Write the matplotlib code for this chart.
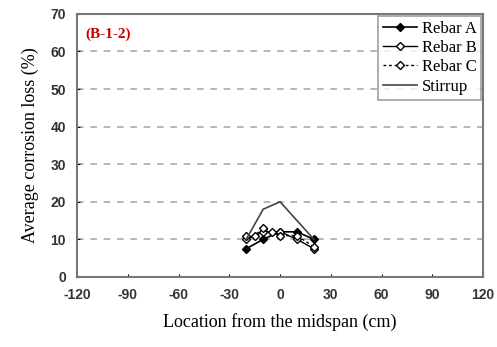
import matplotlib
matplotlib.use("Agg")
import matplotlib.pyplot as plt

plt.rcParams['font.family'] = ['Liberation Serif', 'DejaVu Serif']
plt.rcParams['axes.unicode_minus'] = False

# data
loc_a = [-20, -10, 0, 10, 20]
rebar_a = [7.5, 10, 12, 12, 10]
loc_b = [-20, -10, 0, 10, 20]
rebar_b = [10, 12, 12, 10, 7.5]
loc_c = [-20, -15, -10, -5, 0, 10, 20]
rebar_c = [11, 11, 13, 12, 11, 11, 8]
loc_s = [-20, -10, 0, 10, 20]
stirrup = [10, 18, 20, 15, 10]

xticks = [-120, -90, -60, -30, 0, 30, 60, 90, 120]
yticks = [0, 10, 20, 30, 40, 50, 60, 70]

fig = plt.figure(figsize=(4.97, 3.47), dpi=100)
ax = fig.add_axes([0.155, 0.202, 0.817, 0.758])

ax.plot(loc_a, rebar_a, color='black', lw=1.2, marker='D', ms=4,
        mfc='black', mec='black', label='Rebar A')
ax.plot(loc_b, rebar_b, color='black', lw=1.0, marker='D', ms=4,
        mfc='white', mec='black', label='Rebar B')
ax.plot(loc_c, rebar_c, color='black', lw=1.0, ls=(0, (2, 2)), marker='D', ms=4,
        mfc='white', mec='black', label='Rebar C')
ax.plot(loc_s, stirrup, color='#444444', lw=1.2, label='Stirrup')

ax.set_xlim(-120, 120)
ax.set_ylim(0, 70)
ax.set_xticks(xticks)
ax.set_yticks(yticks)
ax.tick_params(length=2, direction='in', pad=8)
for lab in ax.get_xticklabels() + ax.get_yticklabels():
    lab.set_family(['Liberation Sans', 'DejaVu Sans'])
    lab.set_fontsize(10)
    lab.set_fontweight('bold')
    lab.set_color('#333333')
for y in yticks[1:-1]:
    ax.axhline(y, color='#aaaaaa', lw=1.2, ls=(0, (4, 4)), zorder=0)
for s in ax.spines.values():
    s.set_color('#777777')
    s.set_linewidth(1.5)

ax.set_xlabel('Location from the midspan (cm)', fontsize=13, labelpad=8)
ax.set_ylabel('Average corrosion loss (%)', fontsize=13, labelpad=8)
ax.text(0.02, 0.95, '(B-1-2)', transform=ax.transAxes, color='#cc0000',
        fontsize=11, fontweight='bold', va='top', ha='left')

leg = ax.legend(loc='upper right', fontsize=12, frameon=True, fancybox=False,
                borderpad=0.3, labelspacing=0.2, handlelength=2.0,
                handletextpad=0.3, borderaxespad=0.1)
leg.get_frame().set_edgecolor('#888888')
leg.get_frame().set_linewidth(1.2)

fig.savefig('out.png', dpi=100)
